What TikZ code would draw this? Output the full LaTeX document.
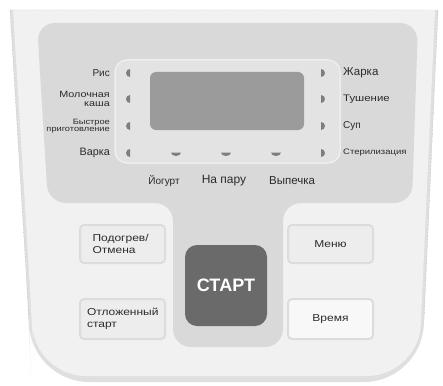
\documentclass[tikz,border=0pt]{standalone}
\usepackage{fontspec}
\setmainfont{Liberation Sans}
\newfontfamily\widefont{Liberation Sans}[FakeStretch=1.2]
\definecolor{facegray}{HTML}{F1F1F1}
\definecolor{rimgray}{HTML}{DFDFDF}
\definecolor{panelgray}{HTML}{D9D9D9}
\definecolor{windowgray}{HTML}{E3E3E3}
\definecolor{lcdgray}{HTML}{9B9B9B}
\definecolor{ledgray}{HTML}{7E7E7E}
\definecolor{inkgray}{HTML}{2B2B2B}
\definecolor{keygray}{HTML}{EDEDED}
\definecolor{keyrim}{HTML}{DCDCDC}
\definecolor{startgray}{HTML}{6A6A6A}
\begin{document}
\begin{tikzpicture}[
  x=1pt, y=-1pt,
  modetext/.style={font=\fontsize{10}{11}\selectfont, text=inkgray, inner sep=0pt},
  tinytext/.style={font=\widefont\fontsize{#1}{#1}\selectfont, text=inkgray, inner sep=0pt},
  keybox/.style={draw=keyrim, line width=2pt, fill=keygray, rounded corners=4pt,
    minimum width=85pt, minimum height=38pt, font=\widefont\fontsize{10}{12}\selectfont,
    text=inkgray, inner sep=0pt}
]
\useasboundingbox (0,0) rectangle (443,385);
% body
\fill[rimgray] (10,10) -- (438,10) -- (424,320) [rounded corners=58] -- (422,382) -- (31,382) -- (29,320) [sharp corners] -- cycle;
\fill[facegray] (13,10) -- (435,10) -- (421,320) [rounded corners=52] -- (419,376) -- (34,376) -- (32,320) [sharp corners] -- cycle;
\draw[gray!70, densely dotted] (10,10) -- (424,10) (438,10) -- (424,320) (10,10) -- (29,320);
% upper panel
\fill[panelgray, rounded corners=18] (37,23) -- (418,23) -- (412,203) -- (283,203) -- (283,347) -- (173,347) -- (173,203) -- (48,203) -- cycle;
\filldraw[fill=windowgray, draw=white!40!windowgray, line width=1.5pt, rounded corners=12] (115,60) rectangle (340,163);
\fill[lcdgray, rounded corners=6] (150,72) rectangle (304,130);
% indicators
\foreach \y in {73,99,126,153} {
  \fill[ledgray] (130,\y+4) arc[start angle=90, end angle=270, x radius=4, y radius=4] -- cycle;
  \fill[ledgray] (321,\y-4) arc[start angle=270, end angle=450, x radius=4, y radius=4] -- cycle;
}
\foreach \x in {176,226,276}
  \fill[ledgray] (\x-5,152.5) arc[start angle=180, end angle=0, x radius=5, y radius=3.5] -- cycle;
% mode labels
\node[modetext, anchor=east] (ris) at (110,73) {Рис};
\node[tinytext=9, anchor=east, align=right] (kasha) at (110,99) {Молочная\\каша};
\node[tinytext=7.7, anchor=east, align=right] (bystroe) at (110,126) {Быстрое\\приготовление};
\node[modetext, font=\fontsize{10.8}{12}\selectfont, anchor=east] (varka) at (110,153) {Варка};
\node[modetext, font=\fontsize{11.5}{12}\selectfont, anchor=west] (zharka) at (343,73) {Жарка};
\node[tinytext=9.5, anchor=west] (tushenie) at (343,99) {Тушение};
\node[modetext, anchor=west] (sup) at (343,126) {Суп};
\node[tinytext=7.9, anchor=west] (steril) at (343,153) {Стерилизация};
\node[modetext] (yogurt) at (164,181) {Йогурт};
\node[modetext, font=\fontsize{12}{13}\selectfont] (napar) at (224,181) {На пару};
\node[modetext, font=\fontsize{11.5}{12}\selectfont] (vypechka) at (292,181) {Выпечка};
% keys
\node[keybox, text width=60pt, align=left] (podogrev) at (122.5,244) {Подогрев/\\Отмена};
\node[keybox, minimum height=40pt, text width=71pt, align=left] (otlozh) at (122.5,319) {Отложенный\\старт};
\node[keybox] (menu) at (330.5,244) {Меню};
\node[keybox, minimum height=40pt, fill=white!60!keygray] (vremya) at (330.5,319) {Время};
\node[fill=startgray, rounded corners=12pt, minimum width=82pt, minimum height=81pt,
  text=white, font=\bfseries\fontsize{18}{18}\selectfont] (start) at (226,285.5) {СТАРТ};
\end{tikzpicture}
\end{document}
